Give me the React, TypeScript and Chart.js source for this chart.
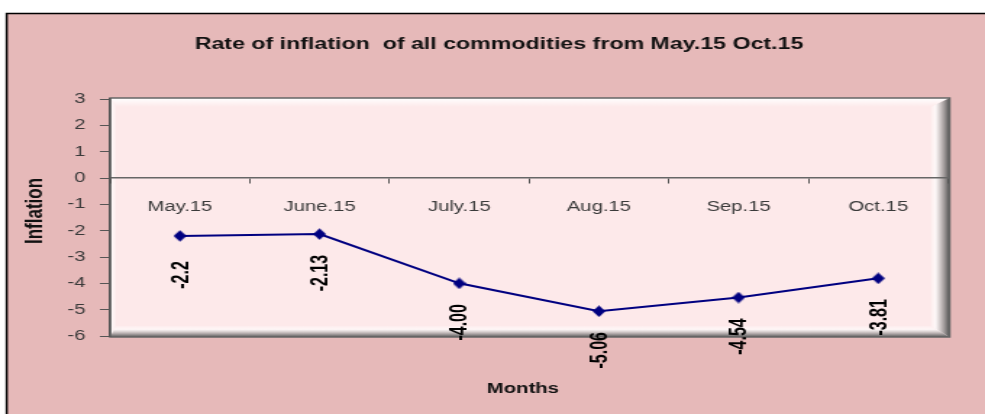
import React, { useEffect, useRef } from "react";
import { Chart, registerables } from "chart.js";

Chart.register(...registerables);

// ---- data ----
const months = ["May.15", "June.15", "July.15", "Aug.15", "Sep.15", "Oct.15"];
const inflation = [-2.2, -2.13, -4.0, -5.06, -4.54, -3.81];
const valueLabels = ["-2.2", "-2.13", "-4.00", "-5.06", "-4.54", "-3.81"];
const yMin = -6;
const yMax = 3;
const yStep = 1;
const chartTitle = "Rate of inflation  of all commodities from May.15 Oct.15";
const yTitle = "Inflation";
const xTitle = "Months";

// ---- layout ----
const W = 680;
const H = 414;
const STRETCH = 985 / W;
const FONT = '"Liberation Sans", Arial, Helvetica, sans-serif';

Chart.defaults.font.family = FONT;

function makeDiamond(): HTMLCanvasElement {
  const c = document.createElement("canvas");
  c.width = 9;
  c.height = 12;
  const g = c.getContext("2d")!;
  g.fillStyle = "#000080";
  g.beginPath();
  g.moveTo(4.5, 0.3);
  g.lineTo(9, 6);
  g.lineTo(4.5, 11.7);
  g.lineTo(0, 6);
  g.closePath();
  g.fill();
  return c;
}

function poly(ctx: CanvasRenderingContext2D, pts: number[][], fill: any) {
  ctx.beginPath();
  ctx.moveTo(pts[0][0], pts[0][1]);
  for (let i = 1; i < pts.length; i++) ctx.lineTo(pts[i][0], pts[i][1]);
  ctx.closePath();
  ctx.fillStyle = fill;
  ctx.fill();
}

const framePlugin = {
  id: "frameDeco",
  beforeDraw(chart: any) {
    const { ctx, chartArea: a } = chart;
    ctx.save();
    ctx.fillStyle = "#ffffff";
    ctx.fillRect(0, 0, W, H);
    ctx.fillStyle = "#e6b9b9";
    ctx.fillRect(4, 13, W - 4, H - 13);
    ctx.strokeStyle = "#000000";
    ctx.lineWidth = 1.5;
    ctx.beginPath();
    ctx.moveTo(4.6, H);
    ctx.lineTo(4.6, 13.6);
    ctx.lineTo(W, 13.6);
    ctx.stroke();

    const L = a.left;
    const T = a.top - 1;
    const R = a.right + 1;
    const B = a.bottom + 1;
    ctx.fillStyle = "#fde9ea";
    ctx.fillRect(L, T, R - L, B - T);
    const bt = 9, bl = 4, br = 13, bb = 11;
    // top
    let g = ctx.createLinearGradient(0, T, 0, T + bt);
    g.addColorStop(0, "rgba(255,255,255,1)");
    g.addColorStop(1, "rgba(255,255,255,0)");
    poly(ctx, [[L, T], [R, T], [R - br, T + bt], [L + bl, T + bt]], g);
    // left
    g = ctx.createLinearGradient(L, 0, L + bl, 0);
    g.addColorStop(0, "rgba(255,255,255,0.9)");
    g.addColorStop(1, "rgba(255,255,255,0.2)");
    poly(ctx, [[L, T], [L + bl, T + bt], [L + bl, B - bb], [L, B]], g);
    // right
    g = ctx.createLinearGradient(R - br, 0, R, 0);
    g.addColorStop(0, "rgba(255,255,255,0.2)");
    g.addColorStop(0.25, "rgba(255,255,255,0.7)");
    g.addColorStop(0.6, "rgba(170,165,165,0.8)");
    g.addColorStop(1, "rgba(80,80,80,1)");
    poly(ctx, [[R, T], [R, B], [R - br, B - bb], [R - br, T + bt]], g);
    // bottom
    g = ctx.createLinearGradient(0, B - bb, 0, B);
    g.addColorStop(0, "rgba(255,255,255,0.2)");
    g.addColorStop(0.3, "rgba(255,255,255,0.6)");
    g.addColorStop(0.65, "rgba(170,165,165,0.8)");
    g.addColorStop(1, "rgba(85,85,85,1)");
    poly(ctx, [[L, B], [R, B], [R - br, B - bb], [L + bl, B - bb]], g);
    ctx.strokeStyle = "#666666";
    ctx.lineWidth = 1.5;
    ctx.strokeRect(L, T, R - L, B - T);
    ctx.restore();
  },
  afterDraw(chart: any) {
    const { ctx } = chart;
    ctx.save();
    ctx.fillStyle = "#111111";
    ctx.textAlign = "center";
    ctx.textBaseline = "alphabetic";
    ctx.font = `bold 16px ${FONT}`;
    ctx.fillText(chartTitle, 344.5, 49);
    ctx.font = `bold 14px ${FONT}`;
    ctx.fillText(xTitle, 361, 393);
    ctx.save();
    ctx.translate(24.8, 211);
    ctx.rotate(-Math.PI / 2);
    ctx.textBaseline = "middle";
    ctx.font = `bold 17px ${FONT}`;
    ctx.fillText(yTitle, 0, 0);
    ctx.restore();

    const meta = chart.getDatasetMeta(0);
    ctx.font = `bold 16px ${FONT}`;
    ctx.fillStyle = "#000000";
    meta.data.forEach((pt: any, i: number) => {
      ctx.save();
      ctx.translate(pt.x + 1, pt.y + 39);
      ctx.rotate(-Math.PI / 2);
      ctx.textAlign = "center";
      ctx.textBaseline = "middle";
      ctx.fillText(valueLabels[i], 0, 0);
      ctx.restore();
    });
    ctx.restore();
  },
};

export default function App() {
  const ref = useRef<HTMLCanvasElement | null>(null);
  useEffect(() => {
    if (!ref.current) return;
    const diamond = makeDiamond();
    const chart = new Chart(ref.current, {
      type: "line",
      data: {
        labels: months,
        datasets: [
          {
            data: inflation,
            borderColor: "#000080",
            backgroundColor: "#000080",
            borderWidth: 2,
            pointStyle: diamond as any,
            pointRadius: 5,
            tension: 0,
            fill: false,
            clip: false as any,
          },
        ],
      },
      options: {
        responsive: false,
        animation: false,
        devicePixelRatio: 1,
        layout: { padding: { left: 0, top: 99, right: W - 654.5, bottom: H - 336 } },
        plugins: {
          legend: { display: false },
          tooltip: { enabled: false },
          title: { display: false },
        },
        scales: {
          x: {
            type: "category",
            offset: true,
            position: { y: 0 } as any,
            grid: {
              offset: true,
              drawOnChartArea: false,
              drawTicks: true,
              tickLength: 5,
              color: "#555555",
              lineWidth: 1,
            },
            border: { display: true, color: "#666666", width: 1.5 },
            ticks: {
              color: "#3a3a3a",
              font: { family: FONT, size: 14 },
              padding: 16,
              maxRotation: 0,
              autoSkip: false,
            },
          },
          y: {
            min: yMin,
            max: yMax,
            afterFit: (s: any) => {
              s.width = 76;
            },
            ticks: {
              stepSize: yStep,
              color: "#3a3a3a",
              font: { family: FONT, size: 14 },
              padding: 10,
            },
            grid: { drawOnChartArea: false, tickLength: 7, color: "#555555" },
            border: { color: "#555555", width: 1.5 },
          },
        },
      },
      plugins: [framePlugin],
    });
    return () => chart.destroy();
  }, []);

  return (
    <div
      style={{
        position: "fixed",
        left: 0,
        top: 0,
        width: W,
        height: H,
        transform: `scaleX(${STRETCH})`,
        transformOrigin: "0 0",
      }}
    >
      <canvas ref={ref} width={W} height={H} style={{ width: W, height: H, display: "block" }} />
    </div>
  );
}
